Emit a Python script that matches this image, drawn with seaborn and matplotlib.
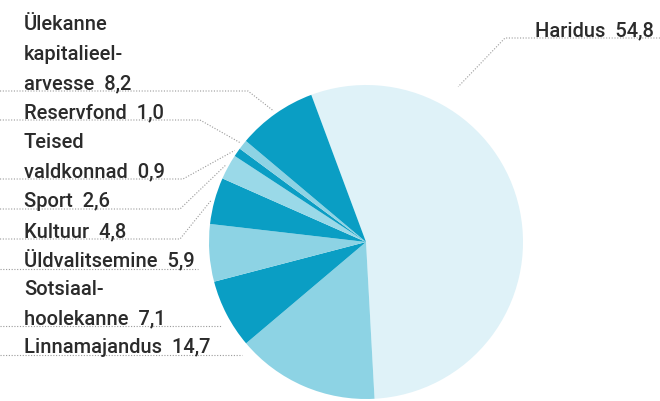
import numpy as np
import matplotlib.pyplot as plt
import seaborn as sns

sns.set_theme(style="white")
plt.rcParams["font.family"] = ["Roboto", "DejaVu Sans"]

# kulude jaotus, %
categories = ["Haridus", "Linnamajandus", "Sotsiaalhoolekanne", "Üldvalitsemine",
              "Kultuur", "Sport", "Teised valdkonnad", "Reservfond",
              "Ülekanne kapitalieelarvesse"]
values = [54.8, 14.7, 7.1, 5.9, 4.8, 2.6, 0.9, 1.0, 8.2]
label_lines = [["Haridus"], ["Linnamajandus"], ["Sotsiaal-", "hoolekanne"],
               ["Üldvalitsemine"], ["Kultuur"], ["Sport"], ["Teised", "valdkonnad"],
               ["Reservfond"], ["Ülekanne", "kapitalieel-", "arvesse"]]

DARK = "#0a9ec4"
MID = "#8dd3e4"
LIGHT = "#dff2f8"
colors = [LIGHT, MID, DARK, MID, DARK, "#9ad9e8", DARK, MID, DARK]

W, H = 660, 401
CX, CY, R = 366, H - 242, 157
START = 110.4

# layout of the label column (pixel coords from top): baseline of last line,
# x where the dotted underline ends, and whether it bends into the pie
label_base = [36, 353, 324, 267, 237, 207, 177, 118, 89]
line_end = [505, 242, 222, 198, 180, 180, 183, 200, 248]
bend = [True, False, False, False, True, True, True, True, True]
STEP = 29.4
TXT = "#2b2b2b"
DOT = "#9a9a9a"
FS = 14.5

fig = plt.figure(figsize=(W / 100, H / 100), dpi=100)
ax = fig.add_axes([0, 0, 1, 1])
wedges, _ = ax.pie(values, colors=colors, startangle=START, counterclock=False,
                   center=(CX, CY), radius=R, wedgeprops=dict(linewidth=0))
ax.set_xlim(0, W)
ax.set_ylim(0, H)
ax.set_axis_off()

fmt = lambda v: f"{v:.1f}".replace(".", ",")

for i, w in enumerate(wedges):
    lines = list(label_lines[i])
    lines[-1] = f"{lines[-1]}  {fmt(values[i])}"
    yb = H - label_base[i]
    yl = yb - 2
    if i == 0:
        ax.text(535, yb, lines[0], fontsize=FS, fontweight="medium", color=TXT,
                ha="left", va="baseline")
        ang = np.deg2rad(59.3)
        tx, ty = CX + 1.15 * R * np.cos(ang), CY + 1.15 * R * np.sin(ang)
        ax.plot([W, line_end[i], tx], [yl, yl, ty], ls=(0, (1, 1.5)), lw=0.8, color=DOT)
        continue
    for k, s in enumerate(lines):
        ax.text(24, yb + (len(lines) - 1 - k) * STEP, s, fontsize=FS, fontweight="medium",
                color=TXT, ha="left", va="baseline")
    xs, ys = [0, line_end[i]], [yl, yl]
    if bend[i]:
        ang = np.deg2rad((w.theta1 + w.theta2) / 2)
        xs.append(CX + 1.02 * R * np.cos(ang))
        ys.append(CY + 1.02 * R * np.sin(ang))
    ax.plot(xs, ys, ls=(0, (1, 1.5)), lw=0.8, color=DOT)

fig.savefig("out.png", dpi=100)
